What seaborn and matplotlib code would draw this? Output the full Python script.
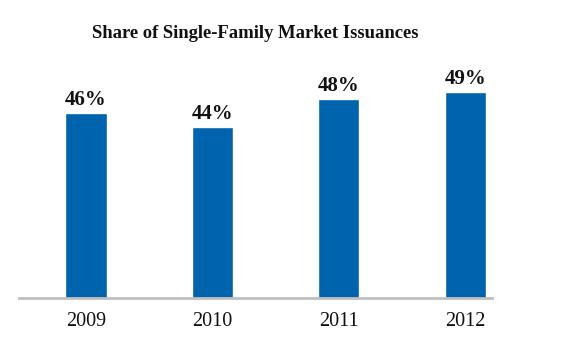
import matplotlib
matplotlib.use("Agg")
import matplotlib.pyplot as plt
import seaborn as sns
import pandas as pd

years = ["2009", "2010", "2011", "2012"]
share = [46, 44, 48, 49]
labels = ["46%", "44%", "48%", "49%"]

sns.set_style("white")
plt.rcParams["font.family"] = ["Liberation Serif", "DejaVu Serif"]

df = pd.DataFrame({"year": years, "share": share})

fig = plt.figure(figsize=(5.76, 3.4), dpi=100)
ax = fig.add_axes([0.033, 0.1235, 0.821, 0.70])

sns.barplot(data=df, x="year", y="share", color="#0063AE", saturation=1,
            width=0.325, ax=ax)

ax.set_ylim(19.5, 53.5)
ax.set_xlim(-0.53, 3.21)

for i, (v, t) in enumerate(zip(share, labels)):
    ax.annotate(t, (i, v), xytext=(0, 1.5), textcoords="offset points",
                ha="center", va="bottom", fontsize=15, fontweight="bold",
                color="#111111")

for s in ["top", "right", "left"]:
    ax.spines[s].set_visible(False)
ax.spines["bottom"].set_color("#BFBFBF")
ax.spines["bottom"].set_linewidth(2)
ax.set_yticks([])
ax.set_xlabel("")
ax.set_ylabel("")
ax.tick_params(axis="x", length=0, labelsize=14.5, pad=10, colors="#111111")

fig.text(0.443, 0.9, "Share of Single-Family Market Issuances",
         ha="center", va="center", fontsize=13.4, fontweight="bold",
         color="#111111")

fig.savefig("out.png", dpi=100, facecolor="white")
